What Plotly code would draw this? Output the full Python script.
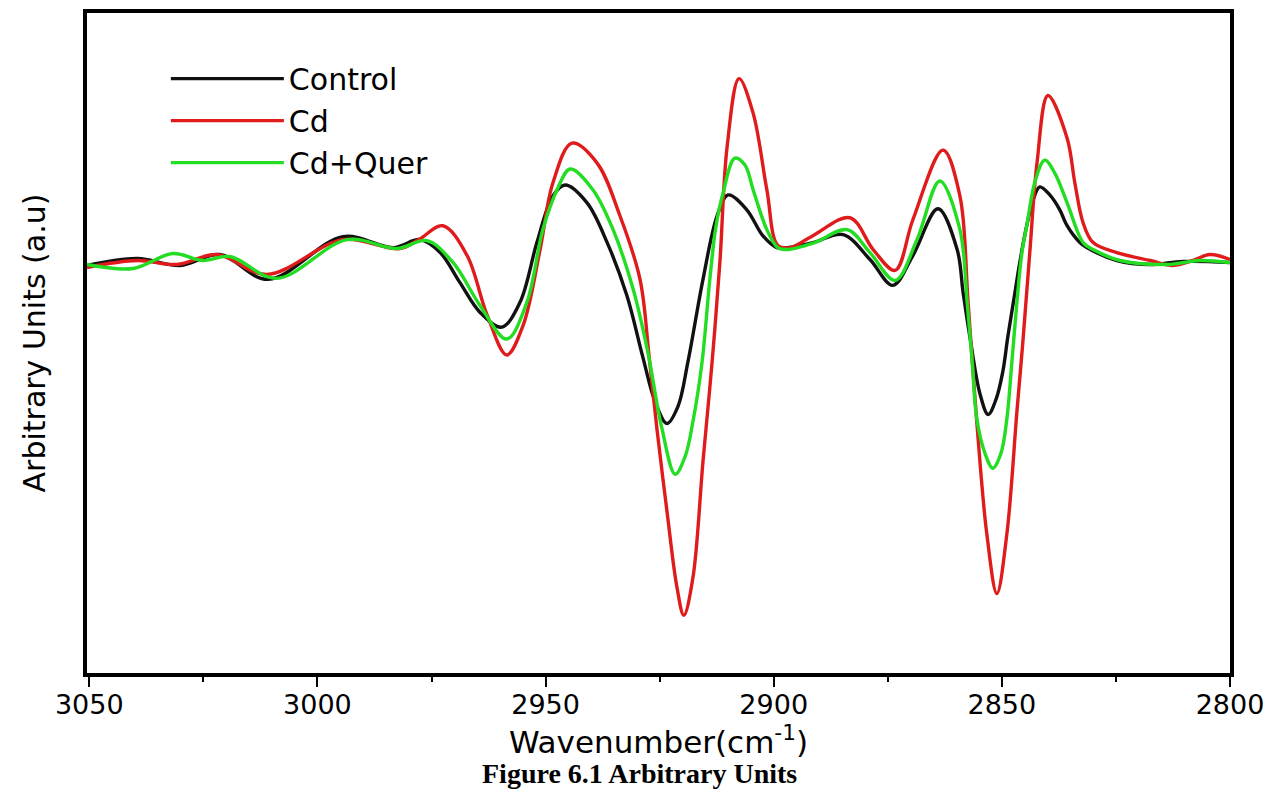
import plotly.graph_objects as go

# ---- data (wavenumber in cm^-1, arbitrary units) ----
control_wn = [3050.5, 3039.5, 3030.1, 3021.4, 3010.8, 2994.4, 2983.4, 2977.5, 2973.1, 2968.8,
              2964.4, 2959.6, 2955.6, 2951.9, 2948.4, 2945.7, 2940.9, 2936.5, 2932.2, 2928.7,
              2926.0, 2923.4, 2921.0, 2918.8, 2915.5, 2912.4, 2910.0, 2905.9, 2902.4, 2899.3,
              2897.1, 2891.4, 2884.8, 2878.9, 2873.9, 2869.5, 2864.0, 2859.8, 2858.5, 2857.0,
              2854.8, 2853.0, 2851.3, 2849.8, 2848.7, 2847.3, 2846.0, 2844.5, 2843.2, 2841.7,
              2839.5, 2837.3, 2835.7, 2832.9, 2831.4, 2824.8, 2817.5, 2810.3, 2800.0]
control_val = [-1, 6, -1, 10, -15, 28, 17, 25, 12, -18,
               -48, -63, -38, 22, 69, 80, 62, 22, -31, -93,
               -138, -160, -143, -98, -15, 49, 70, 55, 29, 17,
               17, 22, 30, 5, -21, 9, 56, 15, -28, -73,
               -130, -151, -136, -108, -73, -33, 4, 40, 64, 78,
               70, 55, 39, 22, 17, 4, 0, 3, 2]

cd_wn = [3050.5, 3039.5, 3030.8, 3022.0, 3011.1, 2994.4, 2981.9, 2977.5, 2972.5, 2967.2,
         2962.8, 2958.5, 2954.9, 2951.2, 2948.4, 2944.2, 2938.7, 2933.7, 2929.3, 2927.3,
         2925.6, 2923.4, 2921.2, 2919.7, 2917.7, 2915.5, 2913.5, 2911.8, 2910.2, 2907.6,
         2904.5, 2901.5, 2899.1, 2896.4, 2891.4, 2883.3, 2878.2, 2873.4, 2869.5, 2862.9,
         2859.2, 2857.4, 2855.5, 2853.3, 2851.1, 2848.9, 2846.7, 2845.4, 2843.8, 2842.3,
         2839.9, 2835.7, 2834.0, 2832.2, 2830.0, 2824.8, 2817.5, 2812.5, 2808.1, 2804.4,
         2800.0]
cd_val = [-3, 4, 0, 10, -10, 25, 16, 26, 39, 9,
          -51, -91, -61, 15, 82, 122, 102, 49, -15, -93,
          -165, -248, -325, -353, -315, -198, -98, 2, 119, 187,
          152, 75, 19, 17, 29, 47, 15, -6, 45, 115,
          69, -38, -158, -271, -331, -271, -148, -78, 17, 102,
          170, 127, 82, 42, 22, 12, 4, -1, 4, 10,
          5]

quer_wn = [3050.5, 3040.4, 3031.7, 3025.1, 3019.2, 3008.9, 2993.5, 2982.6, 2976.0, 2970.3,
           2964.4, 2958.5, 2954.1, 2950.6, 2947.5, 2944.6, 2939.6, 2935.2, 2930.8, 2927.6,
           2924.5, 2921.6, 2919.4, 2917.7, 2915.7, 2914.0, 2912.7, 2911.1, 2908.5, 2906.3,
           2904.5, 2901.5, 2899.1, 2897.1, 2891.0, 2883.9, 2878.9, 2873.4, 2868.6, 2863.6,
           2859.2, 2857.6, 2856.5, 2855.5, 2853.7, 2852.0, 2850.2, 2848.9, 2847.8, 2846.7,
           2845.6, 2844.5, 2842.7, 2840.6, 2838.4, 2835.7, 2832.2, 2830.0, 2824.1, 2813.8,
           2806.6, 2800.0]
quer_val = [0, -4, 11, 4, 8, -14, 25, 16, 24, 2,
            -41, -75, -38, 35, 75, 96, 75, 35, -25, -88,
            -165, -211, -193, -158, -98, -15, 37, 72, 107, 100,
            75, 35, 17, 15, 22, 35, 12, -16, 25, 84,
            35, -38, -98, -155, -190, -205, -190, -155, -98, -38,
            12, 40, 84, 105, 92, 62, 22, 15, 4, 0,
            4, 2]

series_names = ["Control", "Cd", "Cd+Quer"]
series_colors = ["#111111", "#e01b1b", "#22dd22"]
x_ticks = [3050, 3000, 2950, 2900, 2850, 2800]

fig = go.Figure()
for name, xs, ys, col in zip(series_names,
                             [control_wn, cd_wn, quer_wn],
                             [control_val, cd_val, quer_val],
                             series_colors):
    fig.add_trace(go.Scatter(x=xs, y=ys, name=name, mode="lines",
                             line=dict(color=col, width=3.4, shape="spline", smoothing=1.0)))

fig.update_layout(
    width=1284, height=791,
    margin=dict(l=87, r=54, t=9, b=118),
    paper_bgcolor="white", plot_bgcolor="white",
    font=dict(family="DejaVu Sans", color="black"),
    legend=dict(x=0.069, y=0.94, xanchor="left", yanchor="top",
                bgcolor="rgba(0,0,0,0)", borderwidth=0,
                font=dict(size=30, family="DejaVu Sans", color="black"),
                itemwidth=113, tracegroupgap=0),
    xaxis=dict(range=[3050.5, 2800], tickvals=x_ticks, ticks="outside", ticklen=10,
               tickwidth=2, tickcolor="black", showline=True, linecolor="black",
               linewidth=4, mirror=True, showgrid=False, zeroline=False,
               tickfont=dict(size=27, family="DejaVu Sans"), ticklabelstandoff=-5,
               minor=dict(dtick=25, ticks="outside", ticklen=5, tickwidth=2, tickcolor="black"),
               automargin=True,
               title=dict(text="Wavenumber(cm<sup>-1</sup>)", font=dict(size=31, family="DejaVu Sans"),
                          standoff=10)),
    yaxis=dict(range=[-411, 253], showticklabels=False, ticks="", showline=True,
               linecolor="black", linewidth=4, mirror=True, showgrid=False, zeroline=False,
               title=dict(text="Arbitrary Units (a.u)", font=dict(size=30, family="DejaVu Sans"),
                          standoff=30)),
    annotations=[dict(text="<b>Figure 6.1 Arbitrary Units</b>", xref="paper", yref="paper",
                      x=0.4838, y=-0.1521, xanchor="center", yanchor="middle", showarrow=False,
                      font=dict(family="Liberation Serif", size=28, color="black"))],
)

fig.write_html("out.html", config={"displayModeBar": False},
               post_script="document.body.style.margin='0px';document.body.style.padding='0px';"
                           "document.body.style.overflow='hidden';")
